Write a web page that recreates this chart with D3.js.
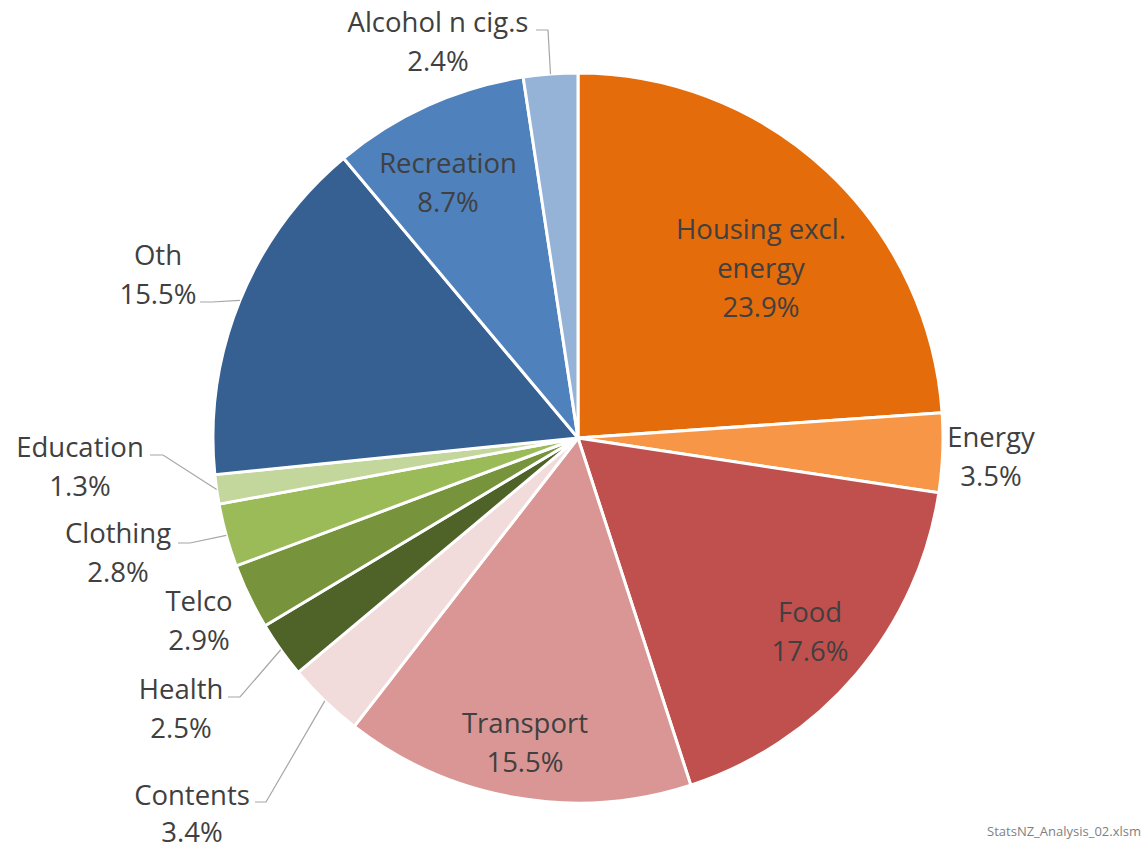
<!DOCTYPE html>
<html><head><meta charset="utf-8">
<script src="https://cdn.jsdelivr.net/npm/d3@7"></script>
<style>body{margin:0;background:#fff}svg{display:block}text{font-family:"Open Sans",Lato,sans-serif;fill:#404040}</style>
</head><body><svg id="c" width="1147" height="850"></svg>
<script>
const categories = ["Housing excl. energy","Energy","Food","Transport","Contents","Health","Telco","Clothing","Education","Oth","Recreation","Alcohol n cig.s"];
const values = [23.9,3.5,17.6,15.5,3.4,2.5,2.9,2.8,1.3,15.5,8.7,2.4];
const colors = ["#E46C0A","#F79646","#C0504D","#D99694","#F2DCDB","#4F6228","#77933C","#9BBB59","#C3D69B","#366092","#4F81BD","#95B3D7"];
const labelLines = [["Housing excl.","energy"],["Energy"],["Food"],["Transport"],["Contents"],["Health"],["Telco"],["Clothing"],["Education"],["Oth"],["Recreation"],["Alcohol n cig.s"]];

// layout: label centres (x, y of first line), line gap, and leader elbow [textEdgeX, elbowX, y]
const labelLayout = [
  {x:761,y:229},{x:991,y:437},{x:810,y:612},{x:525,y:723},
  {x:192,y:795,gap:37,lead:[255,266,802]},{x:181,y:689,lead:[228,240,697]},
  {x:199,y:601},{x:118,y:533,lead:[178,190,543]},
  {x:80,y:447,lead:[150,163,455]},{x:158,y:255,lead:[200,212,302]},
  {x:448,y:163},{x:438,y:22,lead:[536,548,30]}
];
const lineH = 39;

const svg = d3.select("#c");
const cx = 578, cy = 438, R = 365;
const g = svg.append("g").attr("transform",`translate(${cx},${cy})`);
const data = categories.map((c,i)=>({cat:c,val:values[i],i}));
const pie = d3.pie().value(d=>d.val).sort(null);
const arcs = pie(data);
const arc = d3.arc().innerRadius(0).outerRadius(R);
g.selectAll("path").data(arcs).join("path")
  .attr("d",arc).attr("fill",d=>colors[d.data.i])
  .attr("stroke","#fff").attr("stroke-width",3).attr("stroke-linejoin","round");

arcs.forEach((a,i)=>{
  const L = labelLayout[i];
  if(!L.lead) return;
  const m = (a.startAngle+a.endAngle)/2;
  const px = cx + R*Math.sin(m), py = cy - R*Math.cos(m);
  const [x1,x2,y] = L.lead;
  svg.append("polyline")
    .attr("points",`${x1},${y} ${x2},${y} ${px},${py}`)
    .attr("fill","none").attr("stroke","#A6A6A6").attr("stroke-width",1.2);
});

arcs.forEach((a,i)=>{
  const L = labelLayout[i];
  const gap = L.gap || lineH;
  const lines = labelLines[i].concat([d3.format(".1f")(a.data.val)+"%"]);
  const t = svg.append("text").attr("text-anchor","middle").attr("font-size",27.5);
  lines.forEach((s,k)=>{
    t.append("tspan").attr("x",L.x).attr("y",L.y+k*gap).attr("dy","0.36em").text(s);
  });
});

svg.append("text").attr("x",1141).attr("y",836).attr("text-anchor","end")
  .attr("font-size",13).style("fill","#7F7F7F").text("StatsNZ_Analysis_02.xlsm");
</script></body></html>
